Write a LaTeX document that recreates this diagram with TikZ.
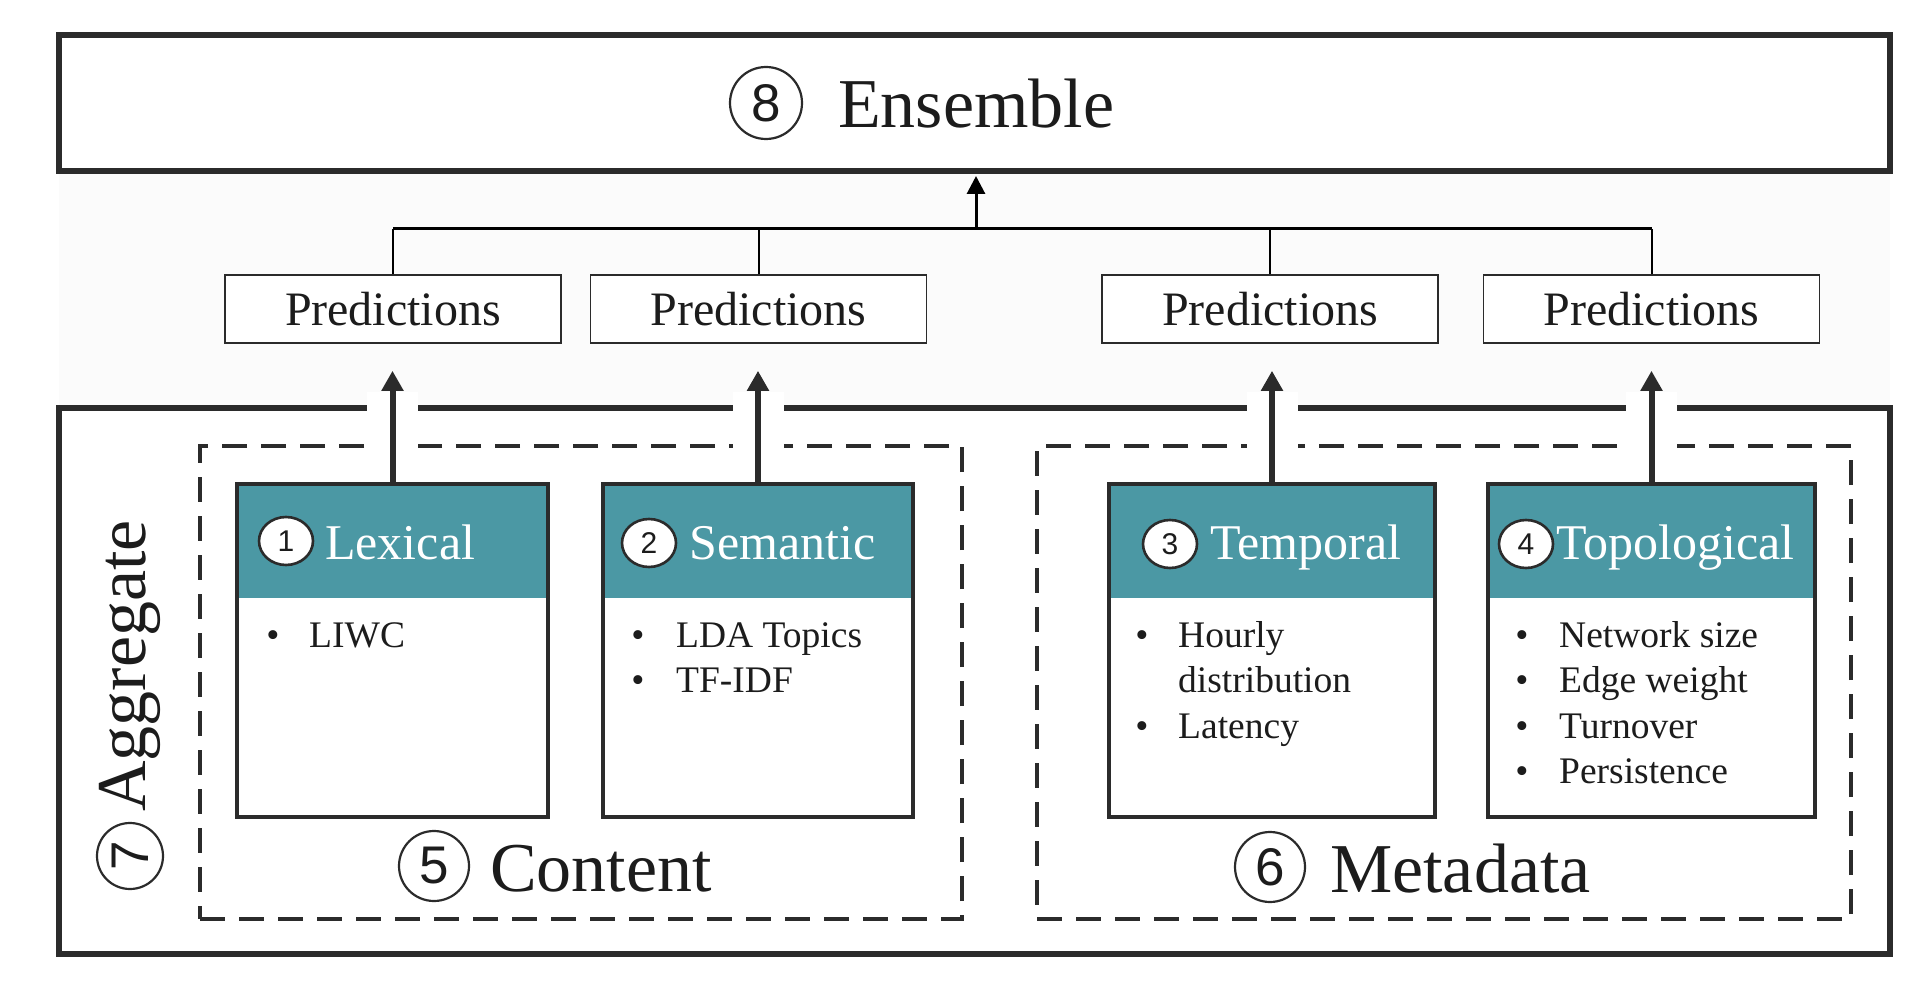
\documentclass[tikz,border=0pt]{standalone}
\usepackage{fontspec}
\setmainfont{Liberation Serif}
\newfontfamily\digitfont{Liberation Sans}
\usetikzlibrary{arrows.meta,shapes.geometric}
\definecolor{ink}{HTML}{2B2B2B}
\definecolor{txt}{HTML}{1C1C1C}
\definecolor{tealhead}{HTML}{4B98A4}
\definecolor{band}{HTML}{FBFBFB}
\begin{document}
\begin{tikzpicture}[x=1pt,y=-1pt,
  thickbox/.style={draw=ink,line width=6pt,minimum width=1831.5pt,inner sep=0pt},
  dashbox/.style={draw=ink,line width=3.5pt,dash pattern=on 25pt off 14pt,minimum height=473pt,inner sep=0pt},
  featbox/.style={fill=white,minimum height=333pt,inner sep=0pt},
  featline/.style={draw=ink,line width=3.5pt},
  predbox/.style={draw=ink,line width=1.6pt,fill=white,minimum width=336pt,minimum height=68pt,inner sep=0pt,text=txt,font={\fontsize{48}{56}\selectfont}},
  hcirc/.style={ellipse,draw=ink,line width=2.6pt,fill=white,minimum width=54pt,minimum height=48pt,inner sep=0pt,text=txt,font={\digitfont\fontsize{30}{30}\selectfont}},
  bcirc/.style={circle,draw=ink,line width=2.2pt,minimum size=70pt,inner sep=0pt,text=txt,font={\digitfont\fontsize{53}{53}\selectfont}},
  headtitle/.style={anchor=base west,inner sep=0pt,text=white,font={\fontsize{50}{60}\selectfont}},
  biglabel/.style={anchor=base west,inner sep=0pt,text=txt,font={\fontsize{70}{84}\selectfont}},
  bul/.style={anchor=base,inner sep=0pt,text=txt,font={\fontsize{37.5}{45}\selectfont}},
  item/.style={anchor=base west,inner sep=0pt,text=txt,font={\fontsize{37.5}{45}\selectfont}},
  featarrow/.style={draw=ink,line width=6pt,-{Triangle[length=20pt,width=21pt]},shorten >=27pt},
  halo/.style={fill=white},
  busline/.style={draw=black,line width=3pt},
  dropline/.style={draw=black,line width=2pt}
]
\useasboundingbox (0,0) rectangle (1928,992);
\fill[white] (0,0) rectangle (1928,992);
% faint band between the two frames
\fill[band] (58.5,171) rectangle (1890,408);

% frames
\node[thickbox,minimum height=136pt] (ens) at (974.25,103) {};
\node[thickbox,minimum height=546pt] (agg) at (974.25,681) {};
\node[dashbox,minimum width=762pt] (content) at (581,682.5) {};
\node[dashbox,minimum width=814pt] (meta) at (1444,682.5) {};

% feature boxes
\node[featbox,minimum width=311pt] (lex) at (392.5,650.5) {};
\node[featbox,minimum width=310pt] (sem) at (758,650.5) {};
\node[featbox,minimum width=326pt] (tmp) at (1272,650.5) {};
\node[featbox,minimum width=327pt] (top) at (1651.5,650.5) {};

% white gaps where the arrows cross the frames
\foreach \b in {lex,sem,tmp,top}{
  \fill[halo] ([xshift=-25.5pt]\b.north) rectangle ([xshift=25.5pt,yshift=92pt]\b.north);
}

\foreach \b in {lex,sem,tmp,top}{
  \fill[tealhead] ([shift={(1.75,1.75)}]\b.north west) rectangle ([shift={(-1.75,114)}]\b.north east);
  \draw[featline] (\b.north west) rectangle (\b.south east);
}

% prediction boxes
\node[predbox] (p1) at (393,309) {Predictions};
\node[predbox] (p2) at (758.5,309) {Predictions};
\node[predbox] (p3) at (1270,309) {Predictions};
\node[predbox] (p4) at (1651.5,309) {Predictions};

% bus to ensemble
\coordinate (busmid) at (976,229);
\draw[busline] (p1.north |- busmid) -- (p4.north |- busmid);
\foreach \p in {p1,p2,p3,p4}{
  \draw[dropline] (\p.north) -- (\p.north |- busmid);
}
\draw[busline,-{Triangle[length=18pt,width=18pt]},shorten >=2pt] (busmid) -- (busmid |- ens.south);

% arrows from features to predictions
\draw[featarrow] (lex.north) -- (lex.north |- p1.south);
\draw[featarrow] (sem.north) -- (sem.north |- p2.south);
\draw[featarrow] (tmp.north) -- (tmp.north |- p3.south);
\draw[featarrow] (top.north) -- (top.north |- p4.south);

% headers
\node[hcirc] (c1) at (286,541) {1};
\node[headtitle] (t1) at (325,559) {Lexical};
\node[hcirc] (c2) at (649,543) {2};
\node[headtitle] (t2) at (689,559) {Semantic};
\node[hcirc] (c3) at (1170,544) {3};
\node[headtitle] (t3) at (1210,559) {Temporal};
\node[hcirc] (c4) at (1526,544) {4};
\node[headtitle] (t4) at (1556,559) {Topological};

% bullet lists
\node[bul] (b11) at (273,647) {\textbullet};
\node[item] (i11) at (309,647) {LIWC};

\node[bul] (b21) at (638,647) {\textbullet};
\node[item] (i21) at (676,647) {LDA Topics};
\node[bul] (b22) at (638,692) {\textbullet};
\node[item] (i22) at (676,692) {TF-IDF};

\node[bul] (b31) at (1142,647) {\textbullet};
\node[item] (i31) at (1178,647) {Hourly};
\node[item] (i31b) at (1178,692) {distribution};
\node[bul] (b32) at (1142,738) {\textbullet};
\node[item] (i32) at (1178,738) {Latency};

\node[bul] (b41) at (1522,647) {\textbullet};
\node[item] (i41) at (1559,647) {Network size};
\node[bul] (b42) at (1522,692) {\textbullet};
\node[item] (i42) at (1559,692) {Edge weight};
\node[bul] (b43) at (1522,738) {\textbullet};
\node[item] (i43) at (1559,738) {Turnover};
\node[bul] (b44) at (1522,783) {\textbullet};
\node[item] (i44) at (1559,783) {Persistence};

% big labels
\node[bcirc,minimum size=72pt] (c8) at (766,103) {8};
\node[biglabel] (ensl) at (838,128) {Ensemble};
\node[bcirc] (c5) at (434,866) {5};
\node[biglabel] (contl) at (490,891) {Content};
\node[bcirc] (c6) at (1270,867) {6};
\node[biglabel] (metal) at (1330,892) {Metadata};
\node[bcirc,minimum size=66pt,rotate=90] (c7) at (130,856) {7};
\node[biglabel,rotate=90] (aggl) at (145,812) {Aggregate};
\end{tikzpicture}
\end{document}
